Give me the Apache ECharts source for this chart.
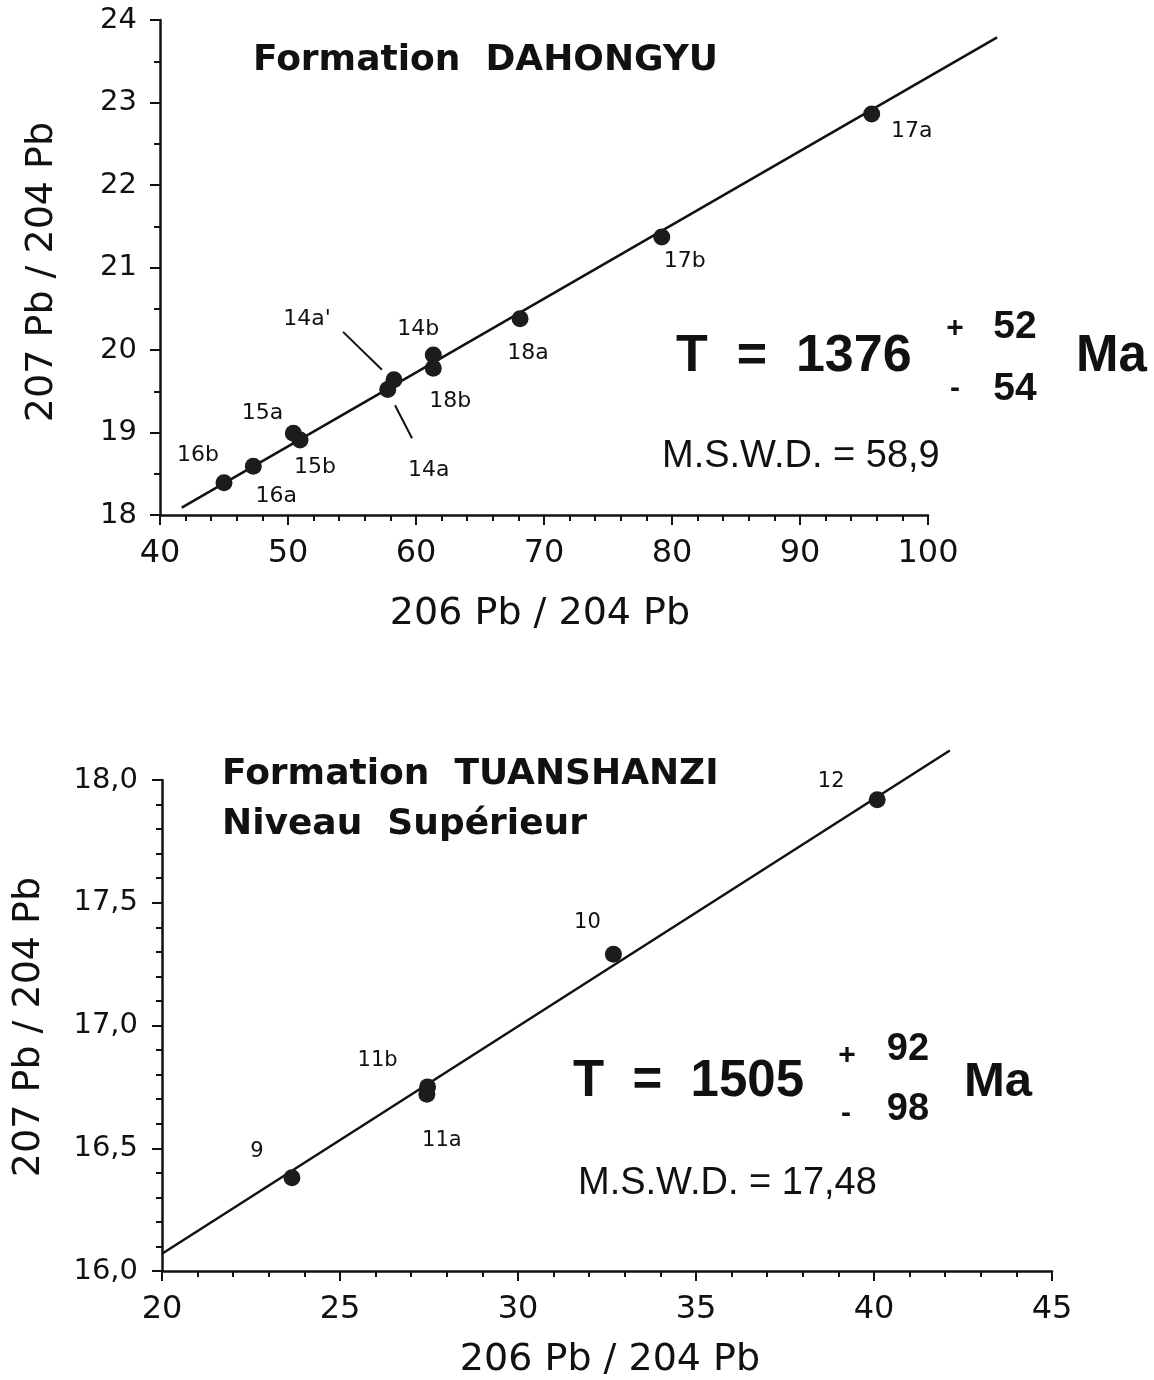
<!DOCTYPE html>
<html>
<head>
<meta charset="utf-8">
<script src="https://cdn.jsdelivr.net/npm/echarts@6/dist/echarts.min.js"></script>
<style>
html,body{margin:0;padding:0;background:#fff;}
#chart{width:1154px;height:1380px;}
</style>
</head>
<body>
<div id="chart"></div>
<script>
// ---------- DATA ----------
// Upper diagram: Formation DAHONGYU
const topNames = ['16b', '16a', '15a', '15b', '14a', "14a'", '14b', '18b', '18a', '17b', '17a'];
const topX = [45.0, 47.29, 50.42, 50.94, 57.79, 58.28, 61.35, 61.35, 68.13, 79.2, 95.6];
const topY = [18.39, 18.59, 18.99, 18.91, 19.52, 19.64, 19.94, 19.78, 20.38, 21.37, 22.86];
const topLineX = [41.7, 105.4];
const topLineY = [18.09, 23.79];
// leader lines for 14a' and 14a
const topLeaderX = [[54.30, 57.34], [58.36, 59.69]];
const topLeaderY = [[20.22, 19.76], [19.33, 18.93]];
const topXTickLabels = ['40', '50', '60', '70', '80', '90', '100'];
const topYTickLabels = ['18', '19', '20', '21', '22', '23', '24'];

// Lower diagram: Formation TUANSHANZI
const botNames = ['9', '11a', '11b', '10', '12'];
const botX = [23.65, 27.44, 27.46, 32.68, 40.09];
const botY = [16.38, 16.72, 16.75, 17.29, 17.92];
const botLineX = [20.0, 42.13];
const botLineY = [16.07, 18.12];
const botXTickLabels = ['20', '25', '30', '35', '40', '45'];
const botYTickLabels = ['16,0', '16,5', '17,0', '17,5', '18,0'];

// ---------- STYLE (label offsets in px, not data) ----------
const topLabelOffset = {
  '16b': [-26, -28], '16a': [23, 30], '15a': [-31, -20], '15b': [15, 27],
  '14a': [41, 81], "14a'": [-87, -60], '14b': [-15, -26], '18b': [17, 33],
  '18a': [8, 35], '17b': [23, 24], '17a': [40, 17]
};
const botLabelOffset = {
  '9': [-35, -26], '11a': [15, 46], '11b': [-50, -26], '10': [-26, -32], '12': [-46, -18]
};

const SANS = 'DejaVu Sans';
const INK = '#111';
const DOT = '#1c1c1c';

function pts(names, xs, ys, offs, fs) {
  return names.map((n, i) => ({
    name: n,
    value: [xs[i], ys[i]],
    label: { show: true, position: 'inside', offset: offs[n], formatter: n,
             color: INK, opacity: 1, fontFamily: SANS, fontSize: fs }
  }));
}

function axisCommon(extra) {
  return Object.assign({
    type: 'value',
    axisLine: { show: true, onZero: false, lineStyle: { color: INK, width: 2.5 } },
    axisTick: { show: true, inside: false, length: 10, lineStyle: { color: INK, width: 2 } },
    splitLine: { show: false },
    minorSplitLine: { show: false }
  }, extra);
}

function lookup(labels, min, step) {
  return v => {
    const i = Math.round((v - min) / step);
    return labels[i] !== undefined ? labels[i] : '';
  };
}

function segmentSeries(xIdx, xs, ys, width) {
  return {
    type: 'custom', xAxisIndex: xIdx, yAxisIndex: xIdx, clip: false, silent: true, z: 2,
    encode: { x: [0, 2], y: [1, 3] },
    data: [[xs[0], ys[0], xs[1], ys[1]]],
    renderItem: (params, api) => {
      const p1 = api.coord([api.value(0), api.value(1)]);
      const p2 = api.coord([api.value(2), api.value(3)]);
      return { type: 'line', shape: { x1: p1[0], y1: p1[1], x2: p2[0], y2: p2[1] },
               style: { stroke: INK, lineWidth: width } };
    }
  };
}

const chart = echarts.init(document.getElementById('chart'), null, { renderer: 'canvas' });

const minor = n => ({ show: true, splitNumber: n, length: 6, lineStyle: { color: INK, width: 2 } });

const option = {
  animation: false,
  backgroundColor: '#fff',
  grid: [
    { left: 160, top: 20, width: 768, height: 495 },
    { left: 162, top: 780, width: 890, height: 491 }
  ],
  xAxis: [
    axisCommon({ gridIndex: 0, min: 40, max: 100, interval: 10, minorTick: minor(5),
      axisLabel: { margin: 23, color: INK, fontFamily: SANS, fontSize: 32,
        formatter: lookup(topXTickLabels, 40, 10) } }),
    axisCommon({ gridIndex: 1, min: 20, max: 45, interval: 5, minorTick: minor(5),
      axisLabel: { margin: 23, color: INK, fontFamily: SANS, fontSize: 32,
        formatter: lookup(botXTickLabels, 20, 5) } })
  ],
  yAxis: [
    axisCommon({ gridIndex: 0, min: 18, max: 24, interval: 1, minorTick: minor(2),
      axisLabel: { margin: 23, color: INK, fontFamily: SANS, fontSize: 29,
        formatter: lookup(topYTickLabels, 18, 1) } }),
    axisCommon({ gridIndex: 1, min: 16, max: 18, interval: 0.5, minorTick: minor(5),
      axisLabel: { margin: 24, color: INK, fontFamily: SANS, fontSize: 29,
        formatter: lookup(botYTickLabels, 16, 0.5) } })
  ],
  series: [
    segmentSeries(0, topLineX, topLineY, 2.5),
    segmentSeries(0, topLeaderX[0], topLeaderY[0], 2),
    segmentSeries(0, topLeaderX[1], topLeaderY[1], 2),
    { type: 'scatter', xAxisIndex: 0, yAxisIndex: 0, symbolSize: 17, z: 3,
      itemStyle: { color: DOT, opacity: 1 },
      data: pts(topNames, topX, topY, topLabelOffset, 22) },
    segmentSeries(1, botLineX, botLineY, 2.5),
    { type: 'scatter', xAxisIndex: 1, yAxisIndex: 1, symbolSize: 17, z: 3,
      itemStyle: { color: DOT, opacity: 1 },
      data: pts(botNames, botX, botY, botLabelOffset, 21) }
  ],
  graphic: [
    // upper diagram texts
    { type: 'text', left: 253, top: 43, style: { text: 'Formation  DAHONGYU', fill: INK,
      font: 'bold 36px "DejaVu Sans"' } },
    { type: 'text', x: 42, y: 272, rotation: Math.PI / 2, style: { text: '207 Pb / 204 Pb', fill: INK,
      font: '38px "DejaVu Sans"', align: 'center', verticalAlign: 'middle' } },
    { type: 'text', x: 540, y: 614, style: { text: '206 Pb / 204 Pb', fill: INK,
      font: '38px "DejaVu Sans"', align: 'center', verticalAlign: 'middle' } },
    { type: 'text', x: 676, y: 357, style: { text: 'T  =  1376', fill: INK,
      font: 'bold 52px "Liberation Sans"', align: 'left', verticalAlign: 'middle' } },
    { type: 'text', x: 955, y: 329, style: { text: '+', fill: INK,
      font: 'bold 30px "Liberation Sans"', align: 'center', verticalAlign: 'middle' } },
    { type: 'text', x: 955, y: 389, style: { text: '-', fill: INK,
      font: 'bold 30px "Liberation Sans"', align: 'center', verticalAlign: 'middle' } },
    { type: 'text', x: 1015, y: 327, style: { text: '52', fill: INK,
      font: 'bold 39px "Liberation Sans"', align: 'center', verticalAlign: 'middle' } },
    { type: 'text', x: 1015, y: 389, style: { text: '54', fill: INK,
      font: 'bold 39px "Liberation Sans"', align: 'center', verticalAlign: 'middle' } },
    { type: 'text', x: 1076, y: 357, style: { text: 'Ma', fill: INK,
      font: 'bold 51px "Liberation Sans"', align: 'left', verticalAlign: 'middle' } },
    { type: 'text', x: 662, y: 457, style: { text: 'M.S.W.D. = 58,9', fill: INK,
      font: '38px "Liberation Sans"', align: 'left', verticalAlign: 'middle' } },
    // lower diagram texts
    { type: 'text', left: 222, top: 757, style: { text: 'Formation  TUANSHANZI', fill: INK,
      font: 'bold 36px "DejaVu Sans"' } },
    { type: 'text', left: 222, top: 807, style: { text: 'Niveau  Supérieur', fill: INK,
      font: 'bold 36px "DejaVu Sans"' } },
    { type: 'text', x: 29, y: 1027, rotation: Math.PI / 2, style: { text: '207 Pb / 204 Pb', fill: INK,
      font: '38px "DejaVu Sans"', align: 'center', verticalAlign: 'middle' } },
    { type: 'text', x: 610, y: 1360, style: { text: '206 Pb / 204 Pb', fill: INK,
      font: '38px "DejaVu Sans"', align: 'center', verticalAlign: 'middle' } },
    { type: 'text', x: 573, y: 1082, style: { text: 'T  =  1505', fill: INK,
      font: 'bold 51px "Liberation Sans"', align: 'left', verticalAlign: 'middle' } },
    { type: 'text', x: 847, y: 1056, style: { text: '+', fill: INK,
      font: 'bold 30px "Liberation Sans"', align: 'center', verticalAlign: 'middle' } },
    { type: 'text', x: 846, y: 1114, style: { text: '-', fill: INK,
      font: 'bold 30px "Liberation Sans"', align: 'center', verticalAlign: 'middle' } },
    { type: 'text', x: 908, y: 1050, style: { text: '92', fill: INK,
      font: 'bold 38px "Liberation Sans"', align: 'center', verticalAlign: 'middle' } },
    { type: 'text', x: 908, y: 1110, style: { text: '98', fill: INK,
      font: 'bold 38px "Liberation Sans"', align: 'center', verticalAlign: 'middle' } },
    { type: 'text', x: 964, y: 1082, style: { text: 'Ma', fill: INK,
      font: 'bold 49px "Liberation Sans"', align: 'left', verticalAlign: 'middle' } },
    { type: 'text', x: 578, y: 1184, style: { text: 'M.S.W.D. = 17,48', fill: INK,
      font: '38px "Liberation Sans"', align: 'left', verticalAlign: 'middle' } }
  ]
};
chart.setOption(option);
</script>
</body>
</html>
